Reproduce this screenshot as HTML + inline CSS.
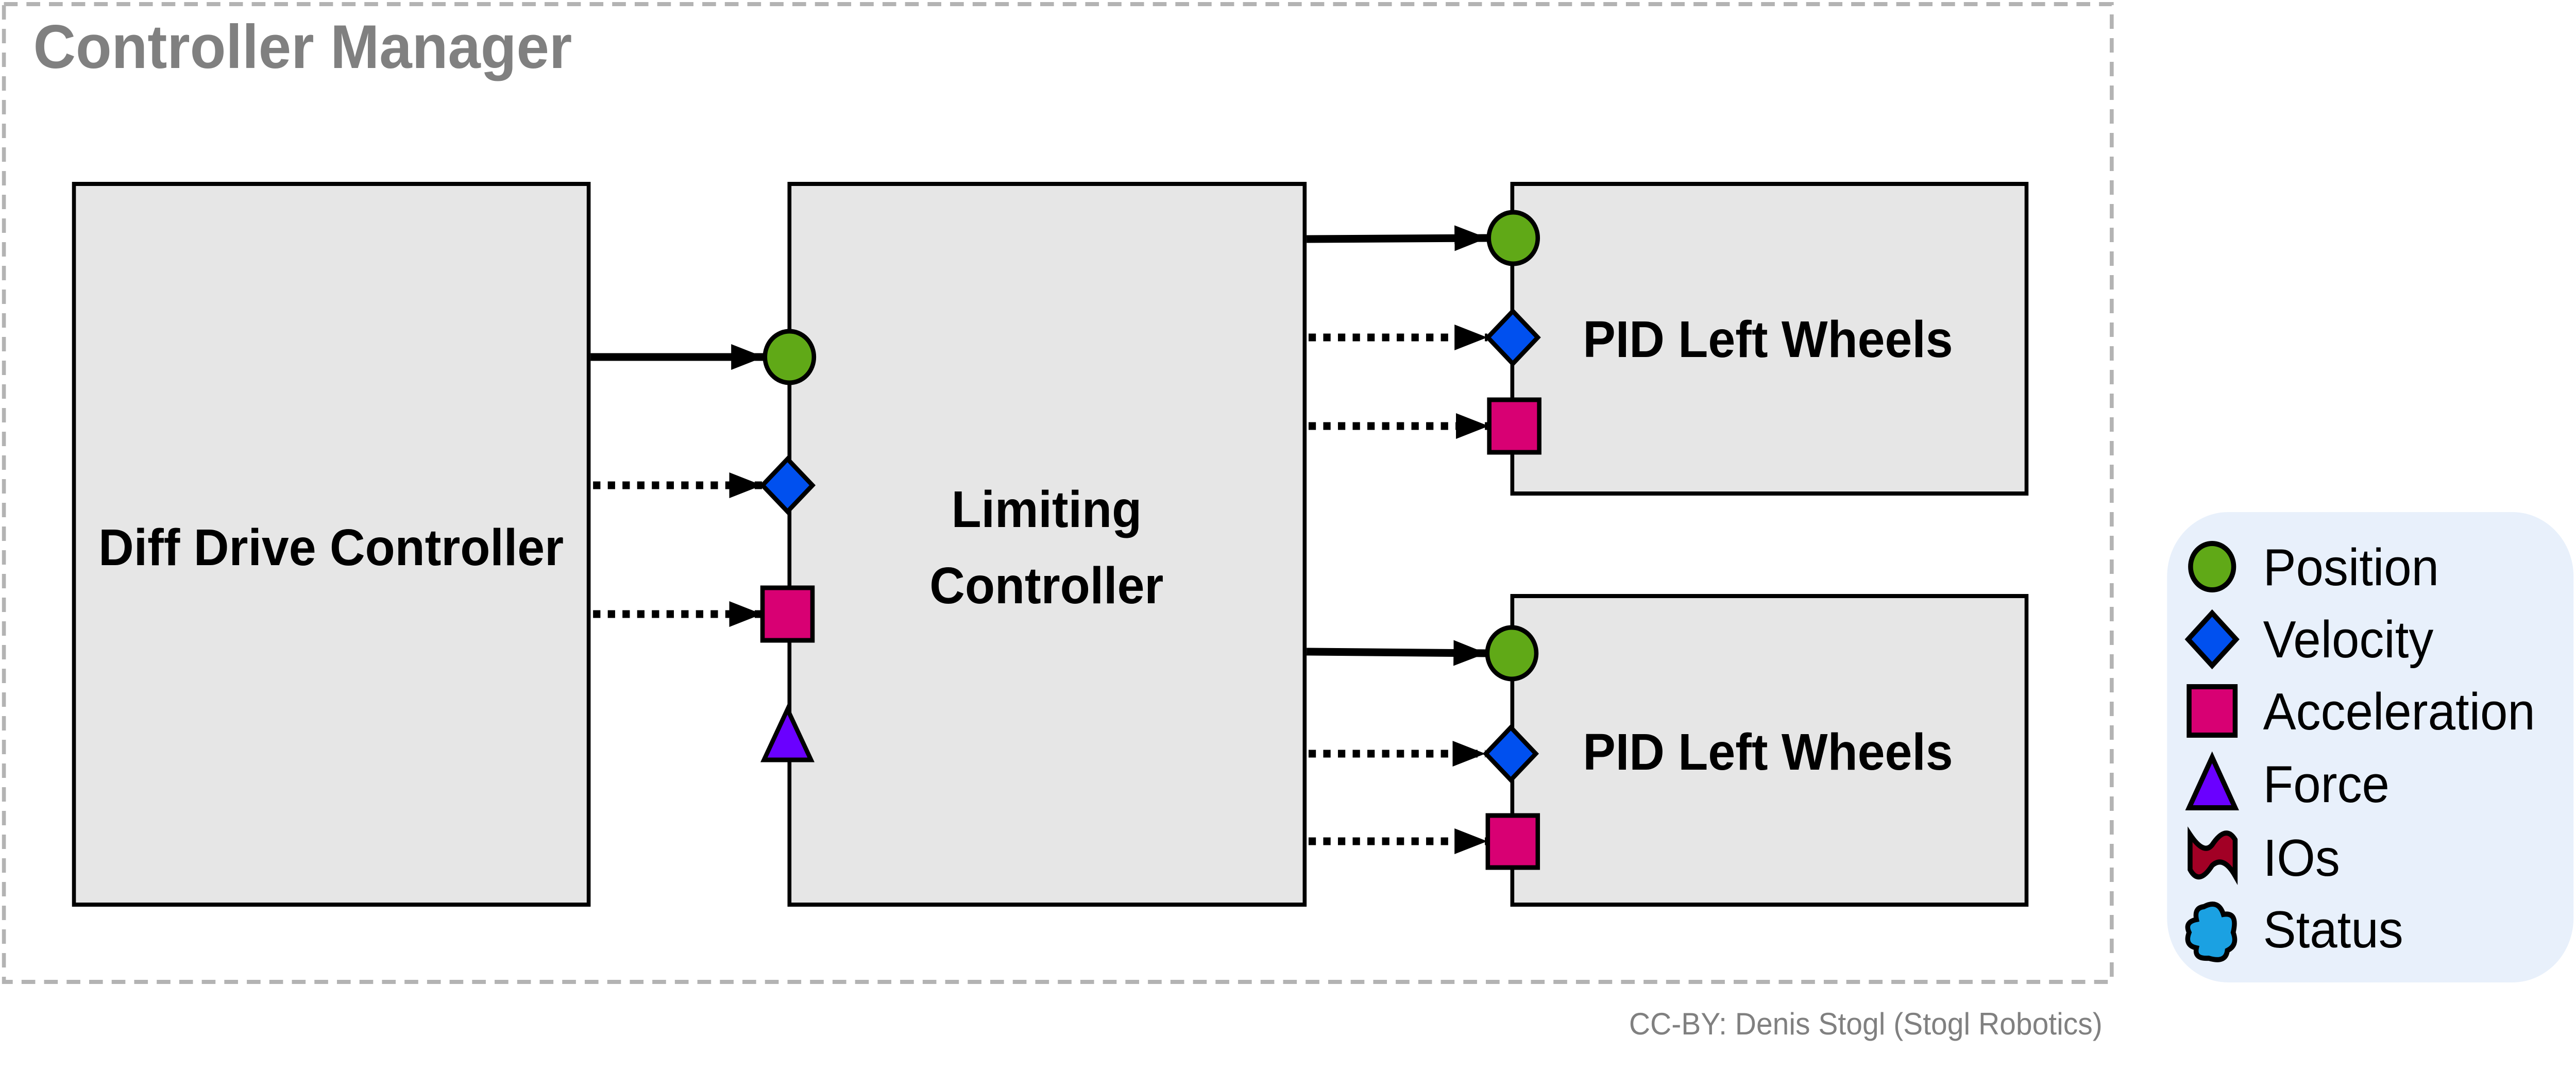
<!DOCTYPE html>
<html><head><meta charset="utf-8"><style>html,body{margin:0;padding:0;background:#fff;overflow:hidden;width:100%;height:100%}svg{display:block;width:100vw;height:100vh}</style></head>
<body>
<svg viewBox="0 0 5260 2110" preserveAspectRatio="none" xmlns="http://www.w3.org/2000/svg" font-family="Liberation Sans, sans-serif">
<defs>
<marker id="ah" markerUnits="userSpaceOnUse" markerWidth="70" markerHeight="54" refX="67" refY="25" orient="auto">
<path d="M0,0 L67,25 L0,50 Z" fill="#000"/>
</marker>
</defs>
<rect x="8" y="8" width="4304" height="1898" fill="none" stroke="#b3b3b3" stroke-width="8" stroke-dasharray="28 18"/>
<text x="68" y="132" font-size="120" font-weight="bold" fill="#808080">Controller Manager</text>

<rect x="151" y="357" width="1051" height="1399" fill="#e6e6e6" stroke="#000" stroke-width="8"/>
<text x="676" y="1097" font-size="100" font-weight="bold" text-anchor="middle">Diff Drive Controller</text>

<rect x="1612" y="357" width="1052" height="1399" fill="#e6e6e6" stroke="#000" stroke-width="8"/>
<text x="2137" y="1023" font-size="100" font-weight="bold" text-anchor="middle">Limiting</text>
<text x="2137" y="1171" font-size="100" font-weight="bold" text-anchor="middle">Controller</text>

<rect x="3088" y="357" width="1050" height="601" fill="#e6e6e6" stroke="#000" stroke-width="8"/>
<text x="3610" y="693" font-size="100" font-weight="bold" text-anchor="middle">PID Left Wheels</text>
<rect x="3088" y="1157" width="1050" height="599" fill="#e6e6e6" stroke="#000" stroke-width="8"/>
<text x="3610" y="1494" font-size="100" font-weight="bold" text-anchor="middle">PID Left Wheels</text>

<g stroke="#000" fill="none">
<line x1="1206" y1="693" x2="1560" y2="693" stroke-width="15" marker-end="url(#ah)"/>
<line x1="1211" y1="942" x2="1556" y2="942" stroke-width="15" stroke-dasharray="15 15" marker-end="url(#ah)"/>
<line x1="1211" y1="1192" x2="1556" y2="1192" stroke-width="15" stroke-dasharray="15 15" marker-end="url(#ah)"/>
<line x1="2668" y1="464" x2="3037" y2="462" stroke-width="15" marker-end="url(#ah)"/>
<line x1="2672" y1="655" x2="3037" y2="655" stroke-width="15" stroke-dasharray="15 15" marker-end="url(#ah)"/>
<line x1="2672" y1="827" x2="3040" y2="827" stroke-width="15" stroke-dasharray="15 15" marker-end="url(#ah)"/>
<line x1="2668" y1="1265" x2="3035" y2="1268" stroke-width="15" marker-end="url(#ah)"/>
<line x1="2672" y1="1463" x2="3033" y2="1463" stroke-width="15" stroke-dasharray="15 15" marker-end="url(#ah)"/>
<line x1="2672" y1="1633" x2="3037" y2="1633" stroke-width="15" stroke-dasharray="15 15" marker-end="url(#ah)"/>
</g>

<g stroke="#000" stroke-width="9">
<circle cx="1612" cy="693" r="50" fill="#60a917"/>
<path d="M1608,891 L1659,942 L1608,993 L1557,942 Z" fill="#0050ef"/>
<rect x="1557" y="1141" width="102" height="102" fill="#d80073"/>
<path d="M1608,1377 L1656,1475 L1560,1475 Z" fill="#6a00ff"/>

<circle cx="3090" cy="462" r="50" fill="#60a917"/>
<path d="M3089,604 L3140,655 L3089,706 L3038,655 Z" fill="#0050ef"/>
<rect x="3041" y="776" width="102" height="102" fill="#d80073"/>

<circle cx="3087" cy="1268" r="50" fill="#60a917"/>
<path d="M3085,1412 L3136,1463 L3085,1514 L3034,1463 Z" fill="#0050ef"/>
<rect x="3038" y="1583" width="102" height="101" fill="#d80073"/>
</g>

<text x="4293" y="2008" font-size="60" fill="#808080" text-anchor="end">CC-BY: Denis Stogl (Stogl Robotics)</text>

<rect x="4425" y="994" width="830" height="913" rx="125" ry="125" fill="#e8f0fb"/>
<g stroke="#000" stroke-width="10">
<ellipse cx="4517" cy="1100" rx="44" ry="45" fill="#60a917"/>
<path d="M4517,1190 L4566,1241 L4517,1292 L4468,1241 Z" fill="#0050ef"/>
<rect x="4470" y="1333" width="94" height="94" fill="#d80073"/>
<path d="M4517,1470 L4564,1568 L4470,1568 Z" fill="#6a00ff"/>
<path d="M4472,1620 Q4500,1660 4517,1640 Q4545,1600 4564,1630 L4564,1700 Q4540,1660 4517,1680 Q4490,1720 4472,1688 Z" fill="#a20025"/>
<path d="M4500,1760 Q4530,1745 4540,1775 Q4570,1770 4560,1810 Q4570,1835 4548,1845 Q4545,1870 4510,1860 Q4480,1862 4485,1840 Q4460,1835 4470,1810 Q4460,1790 4485,1785 Q4480,1762 4500,1760 Z" fill="#1ba1e2"/>
</g>
<g font-size="101" fill="#000">
<text x="4621" y="1136">Position</text>
<text x="4621" y="1276">Velocity</text>
<text x="4621" y="1416">Acceleration</text>
<text x="4621" y="1557">Force</text>
<text x="4621" y="1700">IOs</text>
<text x="4621" y="1839">Status</text>
</g>
</svg>
</body></html>
